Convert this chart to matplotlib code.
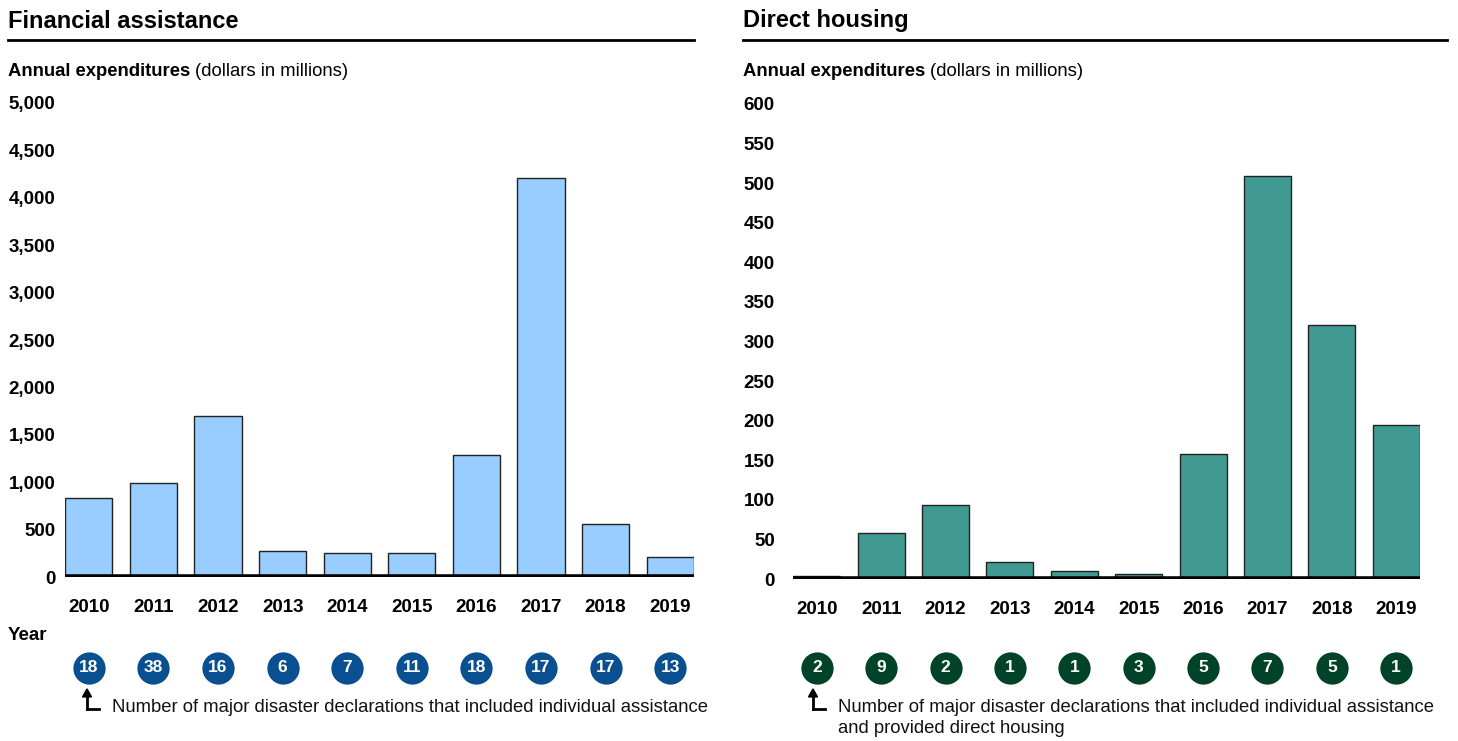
import matplotlib
matplotlib.use("Agg")
import matplotlib.pyplot as plt
from matplotlib.lines import Line2D
from matplotlib.transforms import blended_transform_factory

plt.rcParams['font.family'] = ['Liberation Sans', 'DejaVu Sans']

years = ['2010', '2011', '2012', '2013', '2014', '2015', '2016', '2017', '2018', '2019']
financial = [833, 992, 1698, 274, 253, 253, 1287, 4209, 559, 211]
housing = [4, 58, 93, 21, 10, 6, 158, 509, 321, 194]
fin_decl = [18, 38, 16, 6, 7, 11, 18, 17, 17, 13]
house_decl = [2, 9, 2, 1, 1, 3, 5, 7, 5, 1]

W, H = 1458, 741
fig = plt.figure(figsize=(W / 100, H / 100), dpi=100)

def px(x, y):  # top-left pixel -> figure fraction
    return x / W, 1 - y / H

def axes_rect(left, right, top, bottom):
    return [left / W, 1 - bottom / H, (right - left) / W, (bottom - top) / H]

def panel(rect, values, ymax, ystep, fmt, color, decl, circ_color, tick_pad):
    ax = fig.add_axes(rect)
    x = range(len(values))
    ax.bar(x, values, width=0.73, color=color, edgecolor='#222222', linewidth=1, zorder=2)
    ax.axhline(0, color='black', linewidth=4, zorder=3)
    ax.set_xlim(-0.37, len(values) - 1 + 0.37)
    ax.set_ylim(0, ymax)
    ticks = list(range(0, ymax + 1, ystep))
    ax.set_yticks(ticks)
    ax.set_yticklabels([fmt(t) for t in ticks], fontweight='bold', fontsize=13.5)
    ax.set_xticks(list(x))
    ax.set_xticklabels(years, fontweight='bold', fontsize=13.5)
    ax.tick_params(axis='y', length=0, pad=tick_pad)
    ax.tick_params(axis='x', length=0, pad=15.5)
    for s in ax.spines.values():
        s.set_visible(False)
    # declaration count circles
    bottom_px = H * (1 - rect[1])
    height_px = rect[3] * H
    cy = -(668 - bottom_px) / height_px
    tr = blended_transform_factory(ax.transData, ax.transAxes)
    ax.scatter(list(x), [cy] * len(values), s=540, color=circ_color, transform=tr,
               clip_on=False, zorder=4, linewidths=0)
    for i, n in enumerate(decl):
        ax.text(i, cy, str(n), transform=tr, ha='center', va='center', color='white',
                fontweight='bold', fontsize=12.5, zorder=5)
    return ax

ax1 = panel(axes_rect(65, 694, 103, 577), financial, 5000, 500,
            lambda t: f'{t:,}', '#99CCFF', fin_decl, '#0A4F8F', 7)
ax2 = panel(axes_rect(793, 1420, 104, 579), housing, 600, 50,
            lambda t: str(t), '#419A92', house_decl, '#00432A', 13)

# titles with underline
for x0, x1, title in [(8, 694, 'Financial assistance'), (743, 1447, 'Direct housing')]:
    fig.text(*px(x0, 21), title, fontsize=17, fontweight='bold', va='center', ha='left')
    fig.add_artist(Line2D([x0 / W, x1 / W], [1 - 40 / H, 1 - 40 / H], color='black',
                          linewidth=2, transform=fig.transFigure))

fig.canvas.draw()
renderer = fig.canvas.get_renderer()
for x0 in (8, 743):
    t = fig.text(*px(x0, 72), 'Annual expenditures', fontsize=13.3, fontweight='bold',
                 va='center', ha='left')
    bb = t.get_window_extent(renderer)
    fig.text(bb.x1 / W + 5 / W, 1 - 72 / H, '(dollars in millions)', fontsize=13.3,
             va='center', ha='left')

fig.text(*px(8, 636), 'Year', fontsize=13.5, fontweight='bold', va='center', ha='left')

# notes with L-shaped arrows
notes = [(87, 112, 'Number of major disaster declarations that included individual assistance'),
         (813, 838, 'Number of major disaster declarations that included individual assistance\nand provided direct housing')]
for ax_x, tx, note in notes:
    fig.add_artist(Line2D([ax_x / W, (ax_x + 12) / W], [1 - 709 / H, 1 - 709 / H],
                          color='black', linewidth=2, transform=fig.transFigure))
    fig.add_artist(Line2D([ax_x / W, ax_x / W], [1 - 709 / H, 1 - 696 / H],
                          color='black', linewidth=2, transform=fig.transFigure))
    fig.add_artist(matplotlib.patches.FancyArrow(ax_x / W, 1 - 697 / H, 0, 0.0001,
                                                 width=0, head_width=9 / W,
                                                 head_length=8 / H, color='black',
                                                 length_includes_head=False,
                                                 transform=fig.transFigure))
    fig.text(tx / W, 1 - 699 / H, note, fontsize=13.3, va='top', ha='left',
             linespacing=1.3, color='#111111')

fig.savefig('out.png', dpi=100)
